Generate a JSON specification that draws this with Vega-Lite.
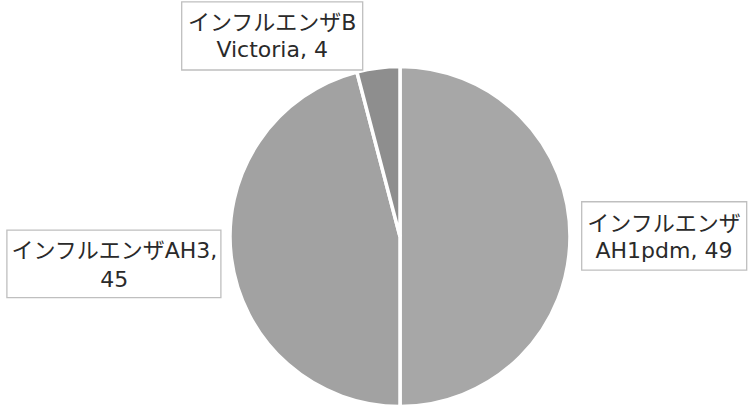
{
  "$schema": "https://vega.github.io/schema/vega-lite/v6.json",
  "width": 702,
  "height": 351,
  "autosize": {"type": "none"},
  "padding": {"left": 49, "top": 61, "right": 0, "bottom": 1},
  "background": "white",
  "config": {"view": {"stroke": null}},
  "data": {
    "values": [
      {"category": "インフルエンザAH1pdm", "count": 49, "label": "インフルエンザ\nAH1pdm, 49"},
      {"category": "インフルエンザAH3", "count": 45, "label": "インフルエンザAH3,\n45"},
      {"category": "インフルエンザB Victoria", "count": 4, "label": "インフルエンザB\nVictoria, 4"}
    ]
  },
  "layer": [
    {
      "mark": {"type": "arc", "outerRadius": 170, "stroke": "white", "strokeWidth": 3.5},
      "encoding": {
        "theta": {"field": "count", "type": "quantitative", "stack": true},
        "order": {"field": "category", "type": "nominal", "sort": "ascending"},
        "color": {
          "field": "category", "type": "nominal",
          "scale": {"domain": ["インフルエンザAH1pdm", "インフルエンザAH3", "インフルエンザB Victoria"], "range": ["#a7a7a7", "#a2a2a2", "#8e8e8e"]},
          "legend": null
        }
      }
    },
    {
      "transform": [{"filter": "datum.category === 'インフルエンザB Victoria'"}],
      "mark": {"type": "point", "filled": true, "fill": "white", "fillOpacity": 1, "opacity": 1, "stroke": "#bfbfbf", "strokeWidth": 1.3, "shape": "M-1,-0.377L1,-0.377L1,0.377L-1,0.377Z", "size": 32761, "xOffset": -127.8, "yOffset": -200.6},
      "encoding": {}
    },
    {
      "transform": [{"filter": "datum.category === 'インフルエンザAH1pdm'"}],
      "mark": {"type": "point", "filled": true, "fill": "white", "fillOpacity": 1, "opacity": 1, "stroke": "#bfbfbf", "strokeWidth": 1.3, "shape": "M-1,-0.414L1,-0.414L1,0.414L-1,0.414Z", "size": 27225, "xOffset": 264.2, "yOffset": -0.6},
      "encoding": {}
    },
    {
      "transform": [{"filter": "datum.category === 'インフルエンザAH3'"}],
      "mark": {"type": "point", "filled": true, "fill": "white", "fillOpacity": 1, "opacity": 1, "stroke": "#bfbfbf", "strokeWidth": 1.3, "shape": "M-1,-0.316L1,-0.316L1,0.316L-1,0.316Z", "size": 45796, "xOffset": -286.1, "yOffset": 27.4},
      "encoding": {}
    },
    {
      "mark": {"type": "text", "radius": 264, "dy": -13, "lineBreak": "\n", "lineHeight": 27, "font": "'DejaVu Sans', 'Noto Sans CJK JP'", "fontSize": 22, "color": "#2a2a2a", "align": "center", "baseline": "middle"},
      "encoding": {
        "theta": {"field": "count", "type": "quantitative", "stack": true},
        "order": {"field": "category", "type": "nominal", "sort": "ascending"},
        "text": {"condition": {"test": "datum.category === 'インフルエンザAH1pdm'", "field": "label"}, "value": ""}
      }
    },
    {
      "mark": {"type": "text", "radius": 288, "dy": -22, "lineBreak": "\n", "lineHeight": 29, "font": "'DejaVu Sans', 'Noto Sans CJK JP'", "fontSize": 22, "color": "#2a2a2a", "align": "center", "baseline": "middle"},
      "encoding": {
        "theta": {"field": "count", "type": "quantitative", "stack": true},
        "order": {"field": "category", "type": "nominal", "sort": "ascending"},
        "text": {"condition": {"test": "datum.category === 'インフルエンザAH3'", "field": "label"}, "value": ""}
      }
    },
    {
      "mark": {"type": "text", "radius": 202, "dx": -102, "dy": -13, "lineBreak": "\n", "lineHeight": 27, "font": "'DejaVu Sans', 'Noto Sans CJK JP'", "fontSize": 22, "color": "#2a2a2a", "align": "center", "baseline": "middle"},
      "encoding": {
        "theta": {"field": "count", "type": "quantitative", "stack": true},
        "order": {"field": "category", "type": "nominal", "sort": "ascending"},
        "text": {"condition": {"test": "datum.category === 'インフルエンザB Victoria'", "field": "label"}, "value": ""}
      }
    }
  ]
}
